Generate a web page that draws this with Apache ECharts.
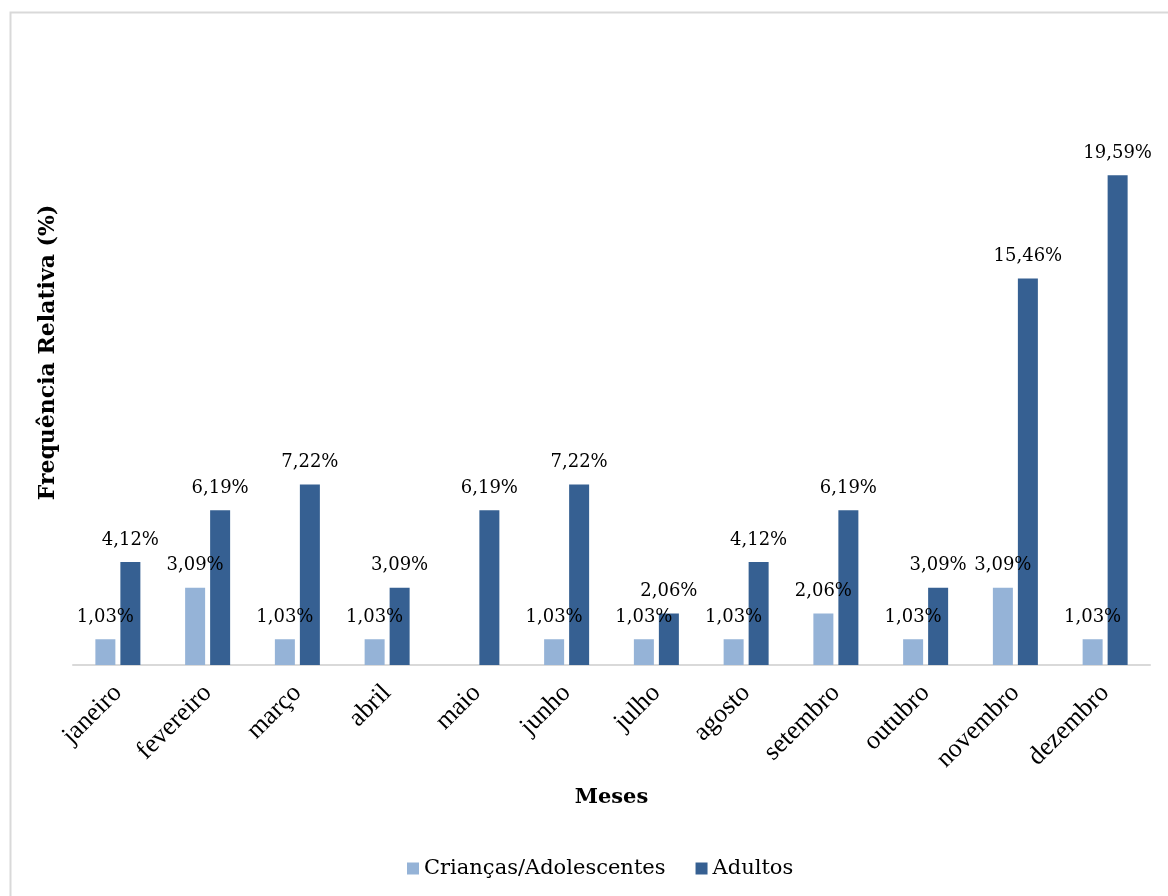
<!DOCTYPE html>
<html>
<head>
<meta charset="utf-8">
<script src="https://cdn.jsdelivr.net/npm/echarts@6/dist/echarts.min.js"></script>
<style>
html,body{margin:0;padding:0;background:#fff;}
#chart{width:1168px;height:896px;}
</style>
</head>
<body>
<div id="chart"></div>
<script>
const categories = ['janeiro','fevereiro','março','abril','maio','junho','julho','agosto','setembro','outubro','novembro','dezembro'];
const criancas = [1.03, 3.09, 1.03, 1.03, null, 1.03, 1.03, 1.03, 2.06, 1.03, 3.09, 1.03];
const adultos = [4.12, 6.19, 7.22, 3.09, 6.19, 7.22, 2.06, 4.12, 6.19, 3.09, 15.46, 19.59];
const seriesNames = ['Crianças/Adolescentes', 'Adultos'];

const labelFont = 'DejaVu Serif';
const fmt = p => p.value == null ? '' : p.value.toFixed(2).replace('.', ',') + '%';

const chart = echarts.init(document.getElementById('chart'));
chart.setOption({
  backgroundColor: '#fff',
  animation: false,
  graphic: [{
    type: 'rect', left: 8, top: 10,
    shape: {width: 1200, height: 920},
    style: {fill: 'none', stroke: '#d9d9d9', lineWidth: 2},
    silent: true
  }],
  grid: {left: 73, right: 18, top: 40, bottom: 231},
  legend: {
    data: seriesNames,
    top: 853, left: 402,
    icon: 'rect', itemWidth: 12, itemHeight: 12, itemGap: 30, itemStyle: {borderWidth: 0},
    textStyle: {fontFamily: labelFont, fontSize: 21, color: '#000'}
  },
  xAxis: {
    type: 'category', data: categories,
    axisLine: {lineStyle: {color: '#d9d9d9', width: 2}},
    axisTick: {show: false},
    axisLabel: {rotate: 45, margin: 24, interval: 0, fontFamily: 'Liberation Serif', fontSize: 26, color: '#000'},
    name: 'Meses', nameLocation: 'middle', nameGap: 122,
    nameTextStyle: {fontFamily: labelFont, fontSize: 21, fontWeight: 'bold', color: '#000'}
  },
  yAxis: {
    type: 'value', min: 0, max: 25,
    axisLine: {show: false}, axisTick: {show: false}, axisLabel: {show: false},
    splitLine: {show: false},
    name: 'Frequência Relativa (%)', nameLocation: 'middle', nameGap: 14,
    nameTextStyle: {fontFamily: labelFont, fontSize: 22, fontWeight: 'bold', color: '#000'}
  },
  series: [
    {
      name: seriesNames[0], type: 'bar', data: criancas,
      barWidth: 20, barGap: '25%',
      itemStyle: {color: '#95b3d7'},
      label: {show: true, position: 'top', distance: 13, formatter: fmt, fontFamily: labelFont, fontSize: 18, color: '#000'}
    },
    {
      name: seriesNames[1], type: 'bar', data: adultos,
      barWidth: 20, barGap: '25%',
      itemStyle: {color: '#366092'},
      label: {show: true, position: 'top', distance: 13, formatter: fmt, fontFamily: labelFont, fontSize: 18, color: '#000'}
    }
  ]
});
</script>
</body>
</html>
